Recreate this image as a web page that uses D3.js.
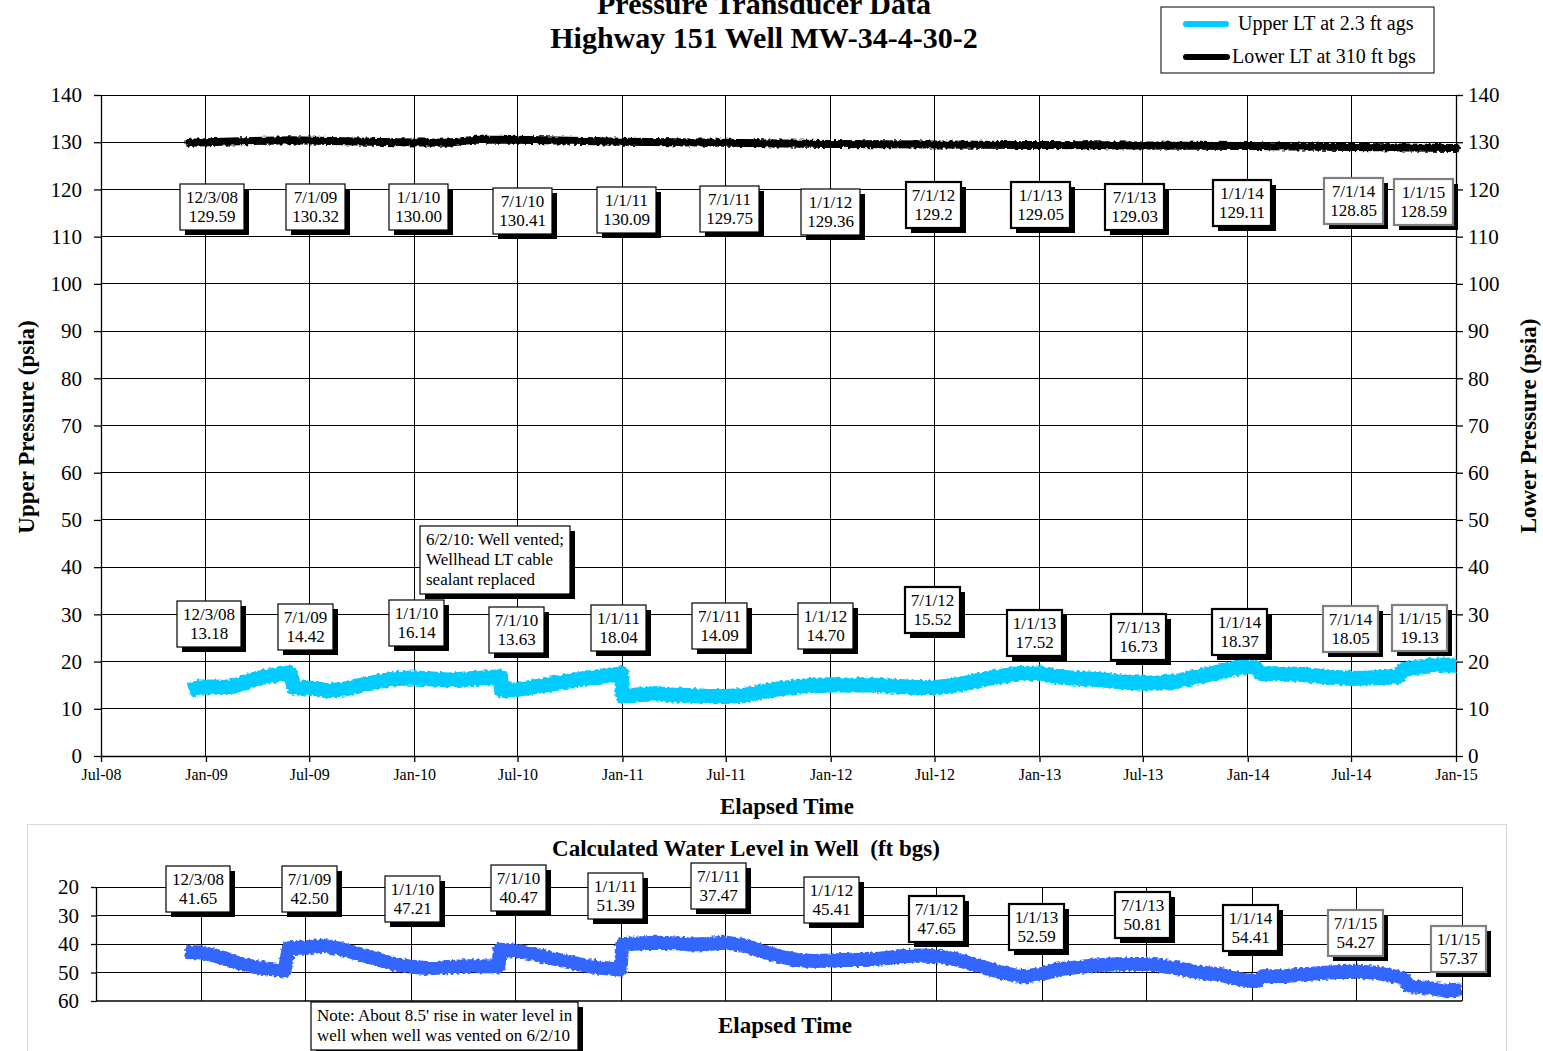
<!DOCTYPE html>
<html><head><meta charset="utf-8">
<script src="https://cdn.jsdelivr.net/npm/d3@7"></script>
<style>
body{margin:0;background:#fff}
svg{display:block}
text{font-family:"Liberation Serif","Times New Roman",serif;fill:#000}
</style>
</head><body>
<svg id="c" width="1543" height="1051"></svg>
<script>
// ---------------- DATA ----------------
const pressureTicks = [0,10,20,30,40,50,60,70,80,90,100,110,120,130,140];
const levelTicks = [20,30,40,50,60];

const upperDates = ["2008-12-03","2008-12-20","2009-01-15","2009-02-10","2009-03-01","2009-03-20","2009-04-15","2009-05-05","2009-05-20","2009-05-28","2009-06-05","2009-06-20","2009-07-15","2009-08-01","2009-09-01","2009-10-01","2009-11-01","2009-12-01","2010-01-01","2010-02-01","2010-03-01","2010-04-01","2010-05-01","2010-06-01","2010-06-03","2010-07-01","2010-08-01","2010-09-01","2010-10-01","2010-11-01","2010-12-01","2010-12-25","2010-12-30","2011-01-02","2011-02-01","2011-03-01","2011-04-01","2011-05-01","2011-06-01","2011-07-01","2011-08-01","2011-09-01","2011-10-01","2011-11-01","2011-12-01","2012-01-01","2012-02-01","2012-03-01","2012-04-01","2012-05-01","2012-06-01","2012-07-01","2012-08-01","2012-09-01","2012-10-01","2012-11-01","2012-12-01","2013-01-01","2013-02-01","2013-03-01","2013-04-01","2013-05-01","2013-06-01","2013-07-01","2013-08-01","2013-09-01","2013-10-01","2013-11-01","2013-12-01","2014-01-01","2014-01-15","2014-01-25","2014-03-01","2014-04-01","2014-05-01","2014-06-01","2014-07-01","2014-08-01","2014-09-01","2014-09-20","2014-10-01","2014-11-01","2014-12-01","2015-01-01"];
const upperValues = [13.8,14.6,14.6,14.5,15.2,16.0,16.8,17.2,17.5,17.6,14.5,14.4,14.3,13.8,14.2,15.0,15.8,16.4,16.5,16.3,16.1,16.3,16.5,16.8,14.0,14.1,14.7,15.3,15.9,16.5,17.0,17.3,17.6,12.6,13.0,13.2,12.9,12.8,12.6,12.6,12.8,13.6,14.2,14.7,15.0,15.1,15.0,15.1,14.9,14.7,14.5,14.5,14.9,15.6,16.4,17.0,17.5,17.6,16.8,16.5,16.3,16.0,15.6,15.4,15.5,15.9,16.7,17.5,18.3,19.0,18.7,17.4,17.4,17.3,17.0,16.7,16.4,16.5,16.7,16.8,18.3,18.9,19.3,19.2];

const lowerDates = ["2008-12-03","2009-03-01","2009-06-01","2009-09-01","2009-12-01","2010-03-01","2010-04-15","2010-07-01","2010-10-01","2011-01-01","2011-07-01","2012-01-01","2012-07-01","2013-01-01","2013-07-01","2014-01-01","2014-07-01","2015-01-01"];
const lowerValues = [129.9,130.2,130.4,130.2,130.0,129.9,130.5,130.5,130.3,130.1,129.9,129.6,129.5,129.4,129.3,129.2,129.0,128.8];

const levelDates = ["2008-12-03","2008-12-10","2009-01-01","2009-02-01","2009-03-01","2009-04-01","2009-05-01","2009-05-25","2009-06-01","2009-07-01","2009-08-01","2009-09-01","2009-10-01","2009-11-01","2009-12-01","2010-01-01","2010-02-01","2010-03-01","2010-04-01","2010-05-01","2010-06-01","2010-06-03","2010-07-01","2010-08-01","2010-09-01","2010-10-01","2010-11-01","2010-12-01","2010-12-30","2011-01-02","2011-02-01","2011-03-01","2011-04-01","2011-05-01","2011-06-01","2011-07-01","2011-08-01","2011-09-01","2011-10-01","2011-11-01","2011-12-01","2012-01-01","2012-02-01","2012-03-01","2012-04-01","2012-05-01","2012-06-01","2012-07-01","2012-08-01","2012-09-01","2012-10-01","2012-11-01","2012-12-01","2013-01-01","2013-02-01","2013-03-01","2013-04-01","2013-05-01","2013-06-01","2013-07-01","2013-08-01","2013-09-01","2013-10-01","2013-11-01","2013-12-01","2014-01-01","2014-01-10","2014-01-20","2014-03-01","2014-04-01","2014-05-01","2014-06-01","2014-07-01","2014-08-01","2014-09-01","2014-09-20","2014-10-01","2014-11-01","2014-12-01","2015-01-01"];
const levelValues = [42.5,42.8,43.0,44.5,46.5,48.0,48.8,49.4,41.5,41.2,40.6,41.8,43.5,45.3,47.0,48.0,48.5,48.2,47.8,47.8,47.9,42.0,42.3,43.5,45.0,46.3,47.7,48.4,49.0,40.0,39.8,39.6,39.7,40.2,40.0,39.5,40.4,42.5,44.3,45.6,46.0,45.8,45.5,45.6,45.0,44.3,44.0,44.3,45.3,47.0,48.8,50.5,51.4,50.5,48.8,48.2,47.5,47.2,47.0,47.0,47.8,48.8,50.0,50.5,52.0,53.0,53.0,51.3,51.2,50.6,50.2,49.8,49.7,50.0,51.2,52.0,54.8,55.3,56.3,56.0];

// callout labels
const labelAnchorDates = ["2008-12-03","2009-07-01","2010-01-01","2010-07-01","2011-01-01","2011-07-01","2012-01-01","2012-07-01","2013-01-01","2013-07-01","2014-01-01","2014-07-01","2015-01-01"];
const pressureLabelDates = ["12/3/08","7/1/09","1/1/10","7/1/10","1/1/11","7/1/11","1/1/12","7/1/12","1/1/13","7/1/13","1/1/14","7/1/14","1/1/15"];
const lowerLabelValues = ["129.59","130.32","130.00","130.41","130.09","129.75","129.36","129.2","129.05","129.03","129.11","128.85","128.59"];
const upperLabelValues = ["13.18","14.42","16.14","13.63","18.04","14.09","14.70","15.52","17.52","16.73","18.37","18.05","19.13"];
const levelLabelDates = ["12/3/08","7/1/09","1/1/10","7/1/10","1/1/11","7/1/11","1/1/12","7/1/12","1/1/13","7/1/13","1/1/14","7/1/15","1/1/15"];
const levelLabelValues = ["41.65","42.50","47.21","40.47","51.39","37.47","45.41","47.65","52.59","50.81","54.41","54.27","57.37"];

// callout layout (nudges in px, y in data units)
const lowerBoxDx = [23,6,4,5,4,4,0,-1,1,-8,-6,2,-33];
const lowerBoxY  = [116.3,116.3,116.3,115.5,115.6,115.8,115.3,116.8,116.6,116.2,117.2,117.6,117.3];
const upperBoxDx = [20,-4,2,-1,-4,-6,-5,-2,-5,-4,-8,-1,-37];
const upperBoxY  = [27.9,27.3,28.2,26.7,27.1,27.5,27.5,30.9,26.1,25.2,26.3,27.0,27.1];
const levelBoxDx = [13,4,1,3,-6,-7,0,0,-6,-4,-2,-1,-4];
const levelBoxY  = [20.7,20.7,24.2,20.5,23.0,19.5,24.6,31.1,34.0,29.8,34.4,36.1,41.6];

// ---------------- DRAW ----------------
const parse = d3.timeParse("%Y-%m-%d");
const svg = d3.select("#c");
const x0 = new Date(2008,6,1), x1 = new Date(2015,0,1);
const xTicks = d3.timeMonth.every(6).range(x0, d3.timeDay.offset(x1,1));

const X = d3.scaleTime().domain([x0,x1]).range([101,1456]);
const Y = d3.scaleLinear().domain([0,140]).range([756,95]);

const X2 = d3.scaleTime().domain([x0,x1]).range([96,1462]);
const Y2 = d3.scaleLinear().domain([20,60]).range([887,1001]);

// roughness filter for the noisy logger bands
const defs = svg.append("defs");
const f = defs.append("filter").attr("id","rough").attr("filterUnits","userSpaceOnUse")
  .attr("x",0).attr("y",0).attr("width",1543).attr("height",1051);
f.append("feTurbulence").attr("type","fractalNoise").attr("baseFrequency","0.35").attr("numOctaves",1).attr("seed",4).attr("result","n");
f.append("feDisplacementMap").attr("in","SourceGraphic").attr("in2","n").attr("scale",5)
  .attr("xChannelSelector","R").attr("yChannelSelector","G");

// Titles
svg.append("text").attr("x",764).attr("y",14).attr("text-anchor","middle")
  .style("font-size","30px").style("font-weight","bold").text("Pressure Transducer Data");
svg.append("text").attr("x",764).attr("y",48).attr("text-anchor","middle")
  .style("font-size","30px").style("font-weight","bold").text("Highway 151 Well MW-34-4-30-2");

// main gridlines
const grid = svg.append("g").attr("stroke","#000").attr("stroke-width",1).attr("shape-rendering","crispEdges");
pressureTicks.filter(v=>v>0).forEach(v=>{
  grid.append("line").attr("x1",X(x0)).attr("x2",X(x1)).attr("y1",Y(v)).attr("y2",Y(v));
});
xTicks.forEach(d=>{
  grid.append("line").attr("x1",X(d)).attr("x2",X(d)).attr("y1",Y(140)).attr("y2",Y(0));
});

// axes
function styleAxis(g, fs){
  g.select(".domain").attr("stroke","#000").attr("stroke-width",1.3);
  g.selectAll(".tick line").attr("stroke","#000").attr("stroke-width",1.3);
  g.selectAll(".tick text").style("font-size",fs).attr("fill","#000")
   .style("font-family",'"Liberation Serif","Times New Roman",serif');
}
svg.append("g").attr("transform",`translate(${X(x0)},0)`)
  .call(d3.axisLeft(Y).tickValues(pressureTicks).tickSize(7).tickSizeOuter(0).tickPadding(12))
  .call(g=>styleAxis(g,"21px"));
svg.append("g").attr("transform",`translate(${X(x1)},0)`)
  .call(d3.axisRight(Y).tickValues(pressureTicks).tickSize(7).tickSizeOuter(0).tickPadding(5))
  .call(g=>styleAxis(g,"21px"));
svg.append("g").attr("transform",`translate(0,${Y(0)})`)
  .call(d3.axisBottom(X).tickValues(xTicks).tickFormat(d3.timeFormat("%b-%y")).tickSize(6).tickSizeOuter(0).tickPadding(7))
  .call(g=>styleAxis(g,"16px"));

// axis titles
svg.append("text").attr("transform","translate(34,427) rotate(-90)").attr("text-anchor","middle")
  .style("font-size","23px").style("font-weight","bold").text("Upper Pressure (psia)");
svg.append("text").attr("transform","translate(1536,426) rotate(-90)").attr("text-anchor","middle")
  .style("font-size","23px").style("font-weight","bold").text("Lower Pressure (psia)");
svg.append("text").attr("x",787).attr("y",814).attr("text-anchor","middle")
  .style("font-size","23px").style("font-weight","bold").text("Elapsed Time");

// series lines
function series(dates, values, xs, ys){
  return dates.map((d,i)=>[xs(parse(d)), ys(values[i])]);
}
const line = d3.line().curve(d3.curveLinear);
svg.append("path").attr("d", line(series(upperDates, upperValues, X, Y)))
  .attr("fill","none").attr("stroke","#00CCFF").attr("stroke-width",15)
  .attr("stroke-linejoin","round").attr("stroke-linecap","butt").attr("filter","url(#rough)");
svg.append("path").attr("d", line(series(lowerDates, lowerValues, X, Y)))
  .attr("fill","none").attr("stroke","#000").attr("stroke-width",8)
  .attr("stroke-linejoin","round").attr("stroke-linecap","round").attr("filter","url(#rough)");

// callout helper
function callout(cx, cy, lines, i, opts={}){
  const fs = opts.fs || 17, lh = opts.lh || 19;
  const g = svg.append("g");
  const shadow = g.append("rect");
  const box = g.append("rect");
  const texts = lines.map((s,k)=> g.append("text").style("font-size",fs+"px").text(s));
  const w = d3.max(texts, t=>t.node().getComputedTextLength());
  const padX = opts.padX || 6;
  const bw = Math.round(w + padX*2), bh = Math.round(lines.length*lh + 8);
  const left = Math.round(cx - bw/2), top = Math.round(cy - bh/2);
  let stroke = "#000", sw = 1.2;
  if (i>=11) { stroke="#808080"; sw=2.2; } else if (i>=7) { sw=2.2; }
  if (opts.plain) { stroke="#000"; sw=1.2; }
  shadow.attr("x",left+5).attr("y",top+5).attr("width",bw).attr("height",bh).attr("fill","#000");
  box.attr("x",left).attr("y",top).attr("width",bw).attr("height",bh)
    .attr("fill","#fff").attr("stroke",stroke).attr("stroke-width",sw);
  texts.forEach((t,k)=>{
    if (opts.alignLeft) t.attr("x",left+padX).attr("text-anchor","start");
    else t.attr("x",left+bw/2).attr("text-anchor","middle");
    t.attr("y", top + 19 + k*lh);
  });
}

pressureLabelDates.forEach((d,i)=>{
  const ax = X(parse(labelAnchorDates[i]));
  callout(ax+lowerBoxDx[i], Y(lowerBoxY[i]), [d, lowerLabelValues[i]], i);
  callout(ax+upperBoxDx[i], Y(upperBoxY[i]), [d, upperLabelValues[i]], i);
});
callout(495, 559.5, ["6/2/10: Well vented;","Wellhead LT  cable","sealant replaced"], 0, {alignLeft:true, lh:20, plain:true});

// legend
const lg = svg.append("g");
lg.append("rect").attr("x",1161).attr("y",7).attr("width",273).attr("height",66)
  .attr("fill","#fff").attr("stroke","#000").attr("stroke-width",1);
lg.append("line").attr("x1",1186).attr("x2",1226).attr("y1",24).attr("y2",24)
  .attr("stroke","#00CCFF").attr("stroke-width",6).attr("stroke-linecap","round");
lg.append("text").attr("x",1238).attr("y",30).style("font-size","20px").text("Upper LT at 2.3 ft ags");
lg.append("line").attr("x1",1186).attr("x2",1227).attr("y1",57).attr("y2",57)
  .attr("stroke","#000").attr("stroke-width",6).attr("stroke-linecap","round");
lg.append("text").attr("x",1232).attr("y",63).style("font-size","20px").text("Lower LT at 310 ft bgs");

// ---------------- LOWER CHART ----------------
svg.append("rect").attr("x",27.5).attr("y",824.5).attr("width",1479).attr("height",240)
  .attr("fill","none").attr("stroke","#d9d9d9").attr("stroke-width",1);
svg.append("text").attr("x",746).attr("y",856).attr("text-anchor","middle")
  .style("font-size","23px").style("font-weight","bold").text("Calculated Water Level in Well\u00a0 (ft bgs)");

const grid2 = svg.append("g").attr("stroke","#000").attr("stroke-width",1).attr("shape-rendering","crispEdges");
levelTicks.filter(v=>v<60).forEach(v=>{
  grid2.append("line").attr("x1",X2(x0)).attr("x2",X2(x1)).attr("y1",Y2(v)).attr("y2",Y2(v));
});
xTicks.forEach(d=>{
  grid2.append("line").attr("x1",X2(d)).attr("x2",X2(d)).attr("y1",Y2(20)).attr("y2",Y2(60));
});
svg.append("g").attr("transform",`translate(${X2(x0)},0)`)
  .call(d3.axisLeft(Y2).tickValues(levelTicks).tickSize(5).tickSizeOuter(0).tickPadding(12))
  .call(g=>styleAxis(g,"21px"));
svg.append("line").attr("x1",X2(x0)).attr("x2",X2(x1)).attr("y1",Y2(60)).attr("y2",Y2(60))
  .attr("stroke","#000").attr("stroke-width",1.5);

svg.append("path").attr("d", line(series(levelDates, levelValues, X2, Y2)))
  .attr("fill","none").attr("stroke","#3366FF").attr("stroke-width",14)
  .attr("stroke-linejoin","round").attr("stroke-linecap","butt").attr("filter","url(#rough)");

levelLabelDates.forEach((d,i)=>{
  const ax = X2(parse(labelAnchorDates[i]));
  callout(ax+levelBoxDx[i], Y2(levelBoxY[i]), [d, levelLabelValues[i]], i);
});
callout(444.5, 1025.5, ["Note: About 8.5' rise in water level in","well when well was vented on 6/2/10"], 0, {alignLeft:true, lh:20, plain:true});

svg.append("text").attr("x",785).attr("y",1033).attr("text-anchor","middle")
  .style("font-size","23px").style("font-weight","bold").text("Elapsed Time");
</script>
</body></html>
